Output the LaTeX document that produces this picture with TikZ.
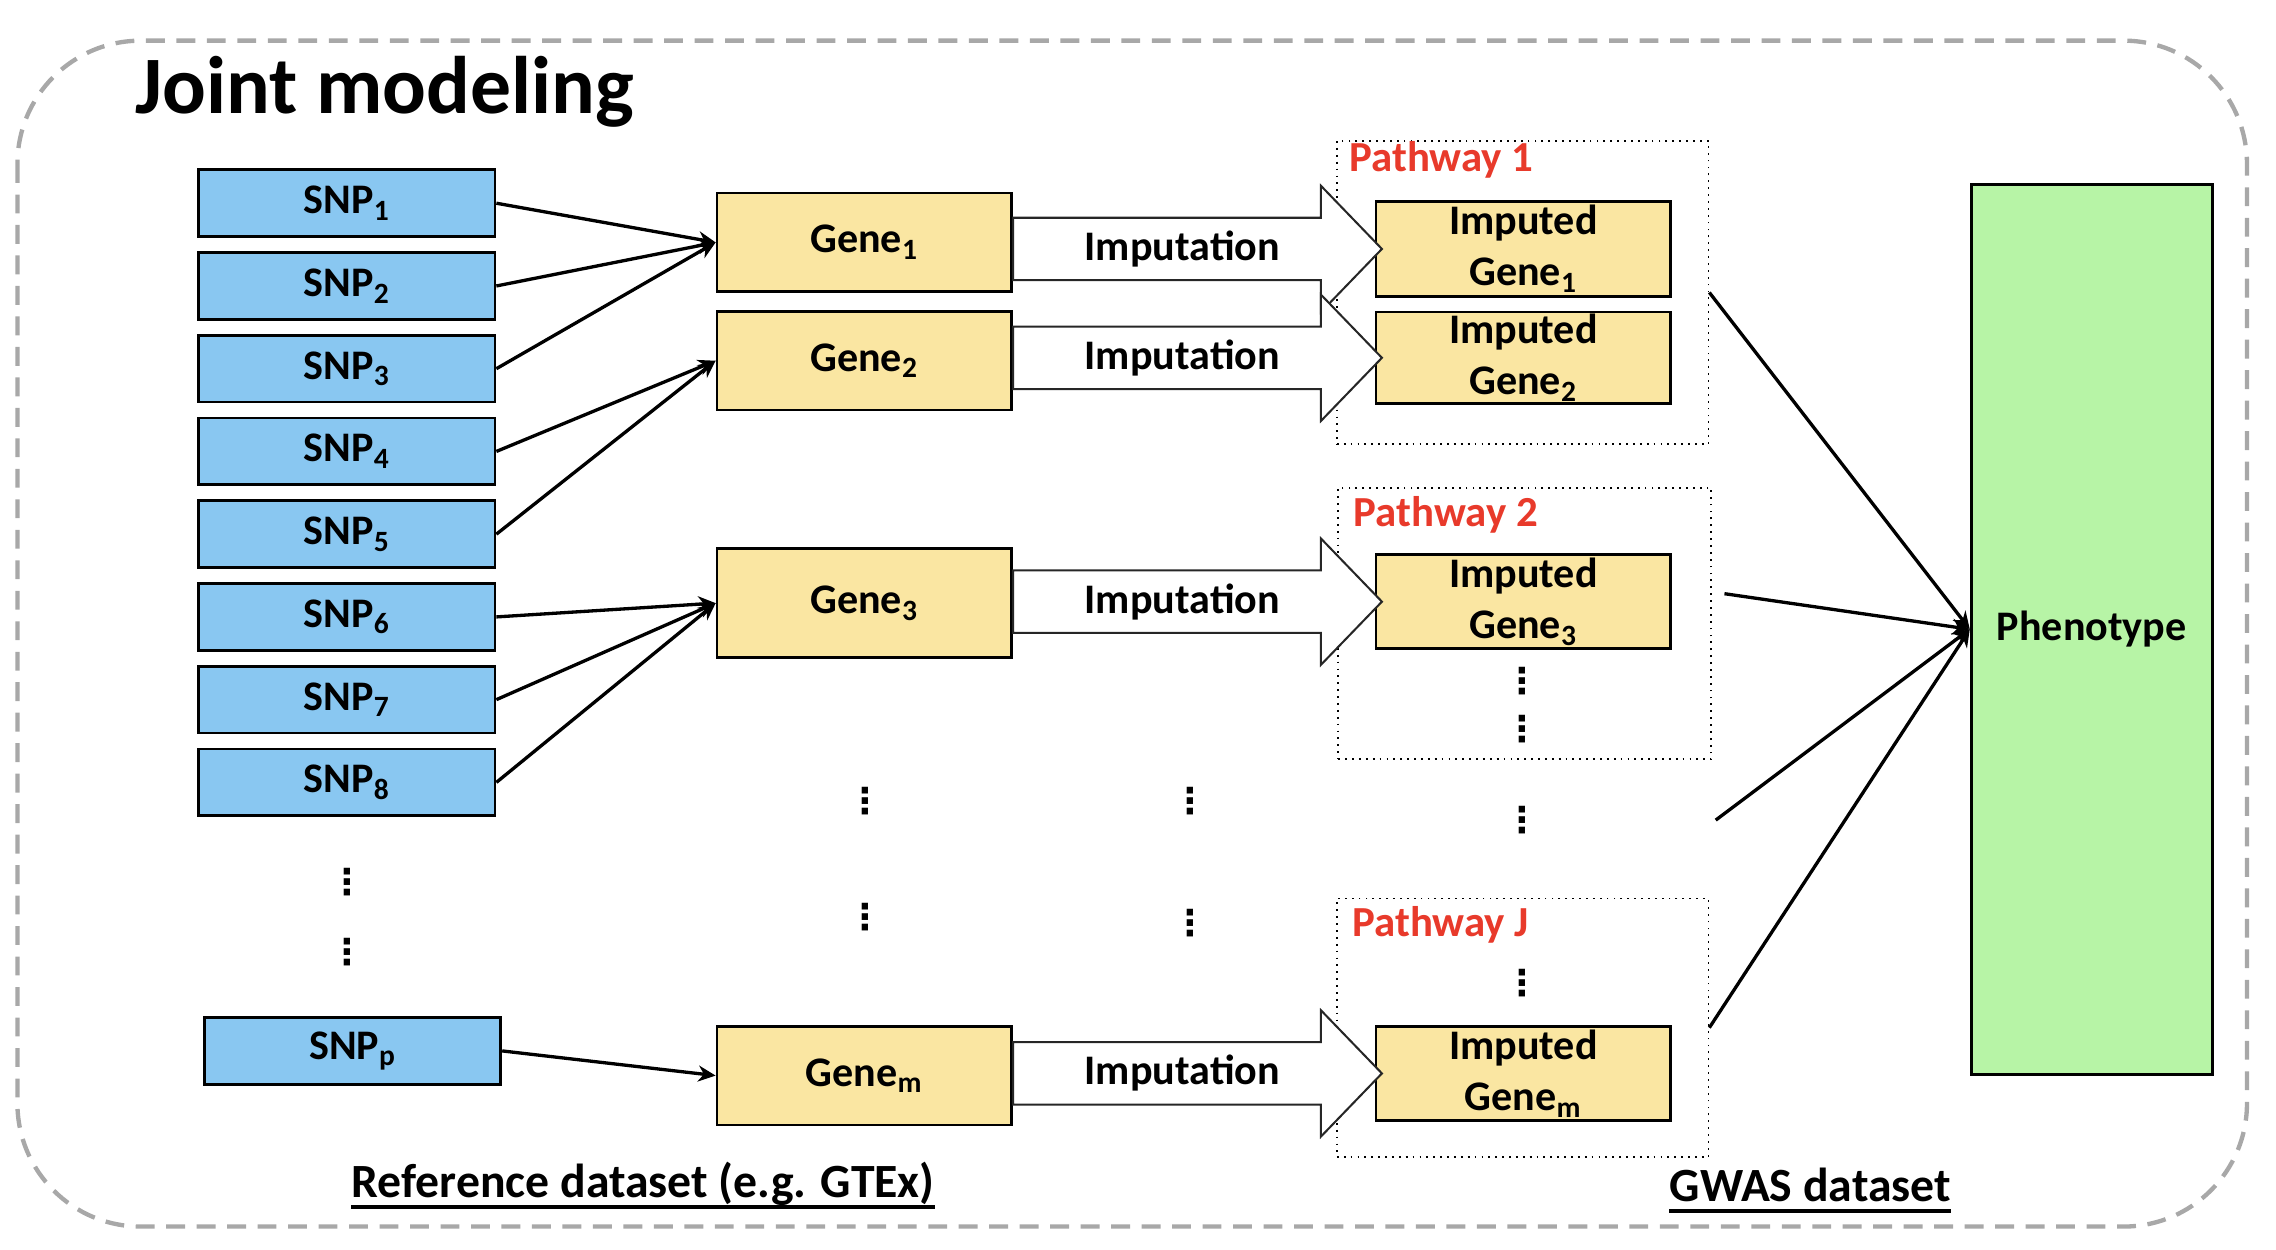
\documentclass[tikz,border=0pt]{standalone}
\usepackage{fontspec}
\setmainfont{Carlito}
\newfontfamily\dotsFont{DejaVu Sans}
\usepackage{tikz}
\usetikzlibrary{calc,arrows.meta}

\definecolor{snpBlue}{HTML}{89C7F1}
\definecolor{geneYellow}{HTML}{FAE6A2}
\definecolor{phenoGreen}{HTML}{B7F4A6}
\definecolor{pathRed}{HTML}{E83A2B}
\definecolor{frameGray}{HTML}{A8A8A8}

\begin{document}
\begin{tikzpicture}[x=0.2mm, y=-0.2mm]
    \tikzstyle{frame} = [
      draw=frameGray,
      line width=1.7pt,
      dash pattern=on 2.6mm off 1.6mm,
      rounded corners=17mm,
    ]
    \tikzstyle{box} = [
      draw=black,
      line width=1.1pt,
      anchor=center,
      align=center,
      inner sep=0pt,
      font=\fontsize{16.5pt}{20pt}\selectfont\bfseries,
    ]
    \tikzstyle{snp} = [
      box,
      fill=snpBlue,
      minimum width=40.8mm,
      minimum height=9.2mm,
    ]
    \tikzstyle{gene} = [
      box,
      fill=geneYellow,
      minimum width=40.6mm,
      minimum height=13.6mm,
    ]
    \tikzstyle{imputed} = [
      box,
      fill=geneYellow,
      minimum width=40.6mm,
      minimum height=13mm,
    ]
    \tikzstyle{pathway} = [
      draw=black,
      line width=0.7pt,
      dotted,
      anchor=center,
      inner sep=0pt,
      minimum width=51.2mm,
    ]
    \tikzstyle{pathLabel} = [
      anchor=base west,
      inner sep=0pt,
      text=pathRed,
      font=\fontsize{16.8pt}{19pt}\selectfont\bfseries,
    ]
    \tikzstyle{arrow} = [
      line width=1.3pt,
      -{Stealth[length=2.4mm, width=2.2mm]},
      draw=black,
    ]
    \tikzstyle{impArrow} = [
      draw=black!85,
      line width=0.8pt,
      fill=white,
    ]
    \tikzstyle{impText} = [
      anchor=center,
      inner sep=0pt,
      font=\fontsize{16.5pt}{20pt}\selectfont\bfseries,
    ]
    \tikzstyle{dots} = [
      anchor=center,
      inner sep=0pt,
      font=\fontsize{14pt}{16pt}\dotsFont\bfseries,
    ]
    \tikzstyle{dataset} = [
      anchor=base west,
      inner sep=0pt,
      font=\fontsize{18.7pt}{22pt}\selectfont\bfseries,
    ]

    % block arrow from a gene to its imputed gene
    \newcommand{\imputeArrow}[3]{
      \draw[impArrow] let \p1=(#1.east), \p2=(#2.west) in
        (\x1,\y2+4.3mm) -- (\x2-7.4mm,\y2+4.3mm) -- (\x2-7.4mm,\y2+8.7mm)
        -- (\x2+1mm,\y2) -- (\x2-7.4mm,\y2-8.7mm) -- (\x2-7.4mm,\y2-4.3mm)
        -- (\x1,\y2-4.3mm) -- cycle;
      \node[impText] (#3) at ($(#1.east |- #2.west)!0.5!(#2.west) + (-8,0)$) {Imputation};
    }

    \useasboundingbox (0,0) rectangle (1568,861);

    % frame
    {
      \draw[frame] (12,28) rectangle (1548,845);
      \node[anchor=base west, inner sep=0pt, font=\fontsize{32pt}{36pt}\selectfont\bfseries] (title) at (93,78) {Joint modeling};
    }

    % snps
    {
      \foreach \i in {1,...,8} {
        \node[snp] (snp\i) at (239,{140+57*(\i-1)}) {SNP\textsubscript{\i}};
      }
      \node[dots] (snpDotsI)  at (239,608) {⋮};
      \node[dots] (snpDotsII) at (239,656) {⋮};
      \node[snp] (snpP) at (243,724) {SNP\textsubscript{p}};
    }

    % genes
    {
      \node[gene] (gene1) at (595.5,167) {Gene\textsubscript{1}};
      \node[gene] (gene2) at (595.5,248.5) {Gene\textsubscript{2}};
      \node[gene, minimum height=15mm] (gene3) at (595.5,415.5) {Gene\textsubscript{3}};
      \node[gene] (geneM) at (595.5,741) {Gene\textsubscript{m}};
      \node[dots] (geneDotsI)  at (596,552) {⋮};
      \node[dots] (geneDotsII) at (596,632) {⋮};
      \node[dots] (impDotsI)   at (820,552) {⋮};
      \node[dots] (impDotsII)  at (820,636) {⋮};
    }

    % snp to gene
    {
      \foreach \i in {1,2,3} {
        \draw[arrow] (snp\i.east) -- (gene1.west);
      }
      \foreach \i in {4,5} {
        \draw[arrow] (snp\i.east) -- (gene2.west);
      }
      \foreach \i in {6,7,8} {
        \draw[arrow] (snp\i.east) -- (gene3.west);
      }
      \draw[arrow] (snpP.east) -- (geneM.west);
    }

    % pathways
    {
      \node[pathway, minimum height=41.8mm] (pw1) at (1049,201.5) {};
      \node[pathway, minimum width=51.4mm, minimum height=37.4mm] (pw2) at (1050.5,429.5) {};
      \node[pathway, minimum height=35.6mm] (pwJ) at (1049,708) {};
      \node[pathLabel] (pw1Label) at ([xshift=1.8mm, yshift=-4.4mm] pw1.north west) {Pathway 1};
      \node[pathLabel] (pw2Label) at ([xshift=2.2mm, yshift=-5.4mm] pw2.north west) {Pathway 2};
      \node[pathLabel] (pwJLabel) at ([xshift=2.2mm, yshift=-5.4mm] pwJ.north west) {Pathway J};
    }

    % imputed genes
    {
      \node[imputed] (imp1) at (1049.5,171.5) {Imputed\\Gene\textsubscript{1}};
      \node[imputed, minimum height=12.6mm] (imp2) at (1049.5,246.5) {Imputed\\Gene\textsubscript{2}};
      \node[imputed] (imp3) at (1049.5,414.5) {Imputed\\Gene\textsubscript{3}};
      \node[imputed] (impM) at (1049.5,739.5) {Imputed\\Gene\textsubscript{m}};
      \node[dots] (pw2DotsI)  at (1049,469) {⋮};
      \node[dots] (pw2DotsII) at (1049,502) {⋮};
      \node[dots] (pwDots)    at (1049,565) {⋮};
      \node[dots] (pwJDots)   at (1049,677) {⋮};
    }

    % imputation
    {
      \imputeArrow{gene1}{imp1}{impText1}
      \imputeArrow{gene2}{imp2}{impText2}
      \imputeArrow{gene3}{imp3}{impText3}
      \imputeArrow{geneM}{impM}{impTextM}
    }

    % phenotype
    {
      \node[box, fill=phenoGreen, minimum width=33.2mm, minimum height=122.6mm] (pheno) at (1441,433.5) {Phenotype};
      \coordinate (pw2Out) at (1188,409);
      \coordinate (pwDotsOut) at (1182,565);
      \draw[arrow] (pw1.east) -- (pheno.west);
      \draw[arrow] (pw2Out) -- (pheno.west);
      \draw[arrow] (pwDotsOut) -- (pheno.west);
      \draw[arrow] (pwJ.east) -- (pheno.west);
    }

    % datasets
    {
      \node[dataset] (refLabel) at (242,825) {Reference dataset (e.g. GTEx)};
      \node[dataset] (gwasLabel) at (1150,828) {GWAS dataset};
      \draw[line width=1.6pt] ([yshift=-1.3mm] refLabel.base west) -- ([yshift=-1.3mm] refLabel.base east);
      \draw[line width=1.6pt] ([yshift=-1.3mm] gwasLabel.base west) -- ([yshift=-1.3mm] gwasLabel.base east);
    }
\end{tikzpicture}
\end{document}
